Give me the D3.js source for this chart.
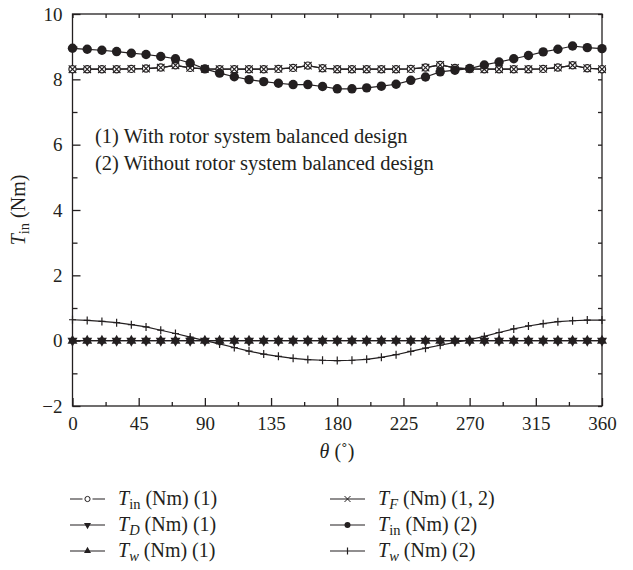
<!DOCTYPE html>
<html><head><meta charset="utf-8">
<script src="https://cdn.jsdelivr.net/npm/d3@7"></script>
<style>body{margin:0;background:#fff}svg{display:block}text{font-family:"Liberation Serif","DejaVu Serif",serif;fill:#231f20}</style>
</head><body><svg id="c" width="633" height="570"></svg>
<script>
const theta = [0,10,20,30,40,50,60,70,80,90,100,110,120,130,140,150,160,170,180,190,200,210,220,230,240,250,260,270,280,290,300,310,320,330,340,350,360];
const tin1 = [8.31,8.31,8.31,8.31,8.32,8.33,8.36,8.43,8.35,8.32,8.31,8.31,8.31,8.31,8.32,8.35,8.42,8.34,8.31,8.31,8.31,8.31,8.31,8.32,8.36,8.44,8.35,8.32,8.31,8.31,8.31,8.31,8.32,8.36,8.43,8.34,8.31];
const tf = [8.31,8.31,8.31,8.31,8.32,8.33,8.36,8.43,8.35,8.32,8.31,8.31,8.31,8.31,8.32,8.35,8.42,8.34,8.31,8.31,8.31,8.31,8.31,8.32,8.36,8.44,8.35,8.32,8.31,8.31,8.31,8.31,8.32,8.36,8.43,8.34,8.31];
const td1 = [0,0,0,0,0,0,0,0,0,0,0,0,0,0,0,0,0,0,0,0,0,0,0,0,0,0,0,0,0,0,0,0,0,0,0,0,0];
const tw1 = [0,0,0,0,0,0,0,0,0,0,0,0,0,0,0,0,0,0,0,0,0,0,0,0,0,0,0,0,0,0,0,0,0,0,0,0,0];
const tin2 = [8.95,8.92,8.89,8.85,8.80,8.76,8.70,8.63,8.50,8.32,8.19,8.08,7.99,7.93,7.88,7.84,7.84,7.78,7.71,7.71,7.74,7.79,7.85,7.97,8.07,8.23,8.28,8.33,8.44,8.53,8.63,8.73,8.84,8.92,9.02,8.97,8.94];
const tw2 = [0.64,0.62,0.59,0.55,0.49,0.42,0.32,0.22,0.11,0.00,-0.10,-0.21,-0.32,-0.41,-0.48,-0.54,-0.58,-0.60,-0.61,-0.60,-0.57,-0.51,-0.43,-0.33,-0.23,-0.14,-0.05,0.03,0.13,0.25,0.36,0.45,0.52,0.58,0.61,0.63,0.63];
const xTicks = [0,45,90,135,180,225,270,315,360];
const yTicks = [-2,0,2,4,6,8,10];
const notes = ["(1) With rotor system balanced design","(2) Without rotor system balanced design"];

const svg = d3.select("#c");
const x = d3.scaleLinear().domain([0,360]).range([72.5,602]);
const y = d3.scaleLinear().domain([-2,10]).range([406,14]);
const col = "#231f20";

// frame
svg.append("rect").attr("x",x(0)).attr("y",y(10)).attr("width",x(360)-x(0)).attr("height",y(-2)-y(10))
  .attr("fill","none").attr("stroke",col).attr("stroke-width",1.3);

// axes
const xMinor = d3.range(0,361,22.5);
const yMinor = d3.range(-2,10.01,1);
const gB = svg.append("g").attr("transform",`translate(0,${y(-2)})`)
  .call(d3.axisBottom(x).tickValues(xTicks).tickSize(-8).tickPadding(11).tickFormat(d=>d));
const gBm = svg.append("g").attr("transform",`translate(0,${y(-2)})`)
  .call(d3.axisBottom(x).tickValues(xMinor.filter(v=>v%45!==0)).tickSize(-4).tickFormat(""));
const gT = svg.append("g").attr("transform",`translate(0,${y(10)})`)
  .call(d3.axisTop(x).tickValues(xMinor).tickSize(-4).tickFormat(""));
const gL = svg.append("g").attr("transform",`translate(${x(0)},0)`)
  .call(d3.axisLeft(y).tickValues(yTicks).tickSize(-8).tickPadding(10).tickFormat(d=>d<0?"\u2212"+(-d):d));
const gLm = svg.append("g").attr("transform",`translate(${x(0)},0)`)
  .call(d3.axisLeft(y).tickValues(yMinor.filter(v=>v%2!==0)).tickSize(-5).tickFormat(""));
const gR = svg.append("g").attr("transform",`translate(${x(360)},0)`)
  .call(d3.axisRight(y).tickValues(yMinor).tickSize(-4).tickFormat(""));
[gB,gBm,gT,gL,gLm,gR].forEach(g=>{
  g.select(".domain").remove();
  g.selectAll("line").attr("stroke",col).attr("stroke-width",1.3);
  g.selectAll("text").attr("font-size",19).attr("font-family","Liberation Serif").attr("fill",col);
});

// lines
const line = d3.line().x((d,i)=>x(theta[i])).y(d=>y(d));
function drawLine(vals){
  svg.append("path").attr("d",line(vals)).attr("fill","none").attr("stroke",col).attr("stroke-width",1.2);
}
[tw2, td1, tw1, tin1, tf, tin2].forEach(drawLine);

// markers
function tri(cx,cy,s,down){
  const h=s*0.9;
  return down? `M${cx-s/2},${cy-h/3}L${cx+s/2},${cy-h/3}L${cx},${cy+2*h/3}Z` : `M${cx-s/2},${cy+h/3}L${cx+s/2},${cy+h/3}L${cx},${cy-2*h/3}Z`;
}
const m = svg.append("g");
// T_w(2) plus
tw2.forEach((v,i)=>{
  const cx=x(theta[i]), cy=y(v);
  m.append("path").attr("d",`M${cx-3.5},${cy}H${cx+3.5}M${cx},${cy-4}V${cy+4}`).attr("stroke",col).attr("stroke-width",1.2);
});
// T_D(1) down triangles, T_w(1) up triangles
td1.forEach((v,i)=>{ m.append("path").attr("d",tri(x(theta[i]),y(v),10,true)).attr("fill",col); });
tw1.forEach((v,i)=>{ m.append("path").attr("d",tri(x(theta[i]),y(v),10,false)).attr("fill",col); });
// T_in(1) open circles
tin1.forEach((v,i)=>{
  m.append("circle").attr("cx",x(theta[i])).attr("cy",y(v)).attr("r",3.6).attr("fill","#fff").attr("stroke",col).attr("stroke-width",1.2);
});
// T_F x marks
tf.forEach((v,i)=>{
  const cx=x(theta[i]), cy=y(v), s=3.8;
  m.append("path").attr("d",`M${cx-s},${cy-s}L${cx+s},${cy+s}M${cx-s},${cy+s}L${cx+s},${cy-s}`).attr("stroke",col).attr("stroke-width",1.1);
});
// T_in(2) filled circles
tin2.forEach((v,i)=>{
  m.append("circle").attr("cx",x(theta[i])).attr("cy",y(v)).attr("r",4.7).attr("fill",col);
});

// annotations
notes.forEach((t,i)=>{
  svg.append("text").attr("x",95).attr("y",143+i*27).attr("font-size",20.5).text(t);
});

// axis labels
const yl = svg.append("text").attr("transform","translate(25,210) rotate(-90)").attr("text-anchor","middle").attr("font-size",20);
yl.append("tspan").attr("font-style","italic").text("T");
yl.append("tspan").attr("font-size",14.5).attr("dy",4).text("in");
yl.append("tspan").attr("dy",-4).text(" (Nm)");
const xl = svg.append("text").attr("x",337).attr("y",458).attr("text-anchor","middle").attr("font-size",20);
xl.append("tspan").attr("font-style","italic").text("\u03b8");
xl.append("tspan").text(" (\u02da)");

// legend
const legend = [
  {sym:"T",sub:"in",subIt:false,tail:" (Nm) (1)",mk:"open",cx:70,cy:499},
  {sym:"T",sub:"D",subIt:true,tail:" (Nm) (1)",mk:"down",cx:70,cy:525},
  {sym:"T",sub:"w",subIt:true,tail:" (Nm) (1)",mk:"up",cx:70,cy:551},
  {sym:"T",sub:"F",subIt:true,tail:" (Nm) (1, 2)",mk:"x",cx:330,cy:499},
  {sym:"T",sub:"in",subIt:false,tail:" (Nm) (2)",mk:"filled",cx:330,cy:525},
  {sym:"T",sub:"w",subIt:true,tail:" (Nm) (2)",mk:"plus",cx:330,cy:551}
];
legend.forEach(d=>{
  const g = svg.append("g");
  const mx = d.cx+17.5;
  if(d.mk==="open"){
    g.append("path").attr("d",`M${d.cx},${d.cy}H${mx-5}M${mx+5},${d.cy}H${d.cx+35}`).attr("stroke",col).attr("stroke-width",1.2);
    g.append("circle").attr("cx",mx).attr("cy",d.cy).attr("r",2.6).attr("fill","#fff").attr("stroke",col).attr("stroke-width",1);
  } else {
    g.append("path").attr("d",`M${d.cx},${d.cy}H${d.cx+35}`).attr("stroke",col).attr("stroke-width",1.2);
    if(d.mk==="down") g.append("path").attr("d",tri(mx,d.cy,7,true)).attr("fill",col);
    if(d.mk==="up") g.append("path").attr("d",tri(mx,d.cy,7,false)).attr("fill",col);
    if(d.mk==="filled") g.append("circle").attr("cx",mx).attr("cy",d.cy).attr("r",3).attr("fill",col);
    if(d.mk==="x") g.append("path").attr("d",`M${mx-3},${d.cy-3}L${mx+3},${d.cy+3}M${mx-3},${d.cy+3}L${mx+3},${d.cy-3}`).attr("stroke",col).attr("stroke-width",1);
    if(d.mk==="plus") g.append("path").attr("d",`M${mx},${d.cy-3.5}V${d.cy+3.5}`).attr("stroke",col).attr("stroke-width",1.2);
  }
  const t = g.append("text").attr("x",d.cx+48).attr("y",d.cy+6).attr("font-size",20);
  t.append("tspan").attr("font-style","italic").text(d.sym);
  t.append("tspan").attr("font-size",14.5).attr("dy",4).attr("font-style",d.subIt?"italic":"normal").text(d.sub);
  t.append("tspan").attr("dy",-4).text(d.tail);
});
</script></body></html>
